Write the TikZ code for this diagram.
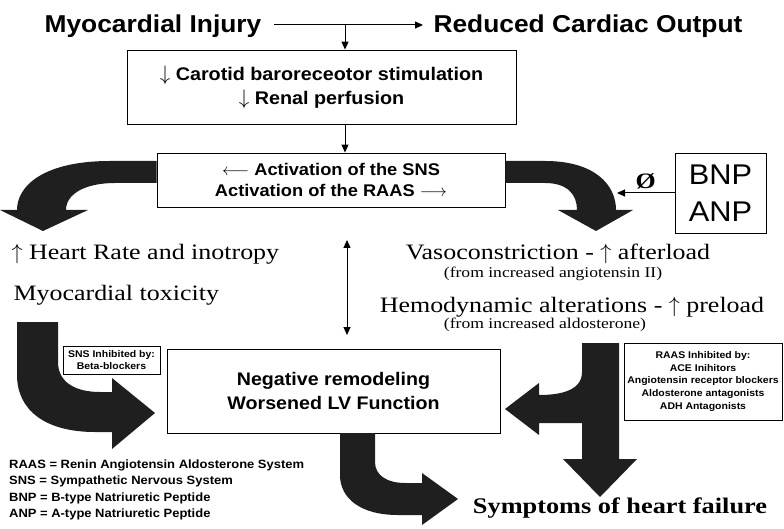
\RequirePackage{fix-cm}
\documentclass[tikz,border=0pt]{standalone}
\usepackage{amsmath}
\usepackage{fontspec}
\setmainfont{Liberation Serif}[FakeStretch=1.18]
\setsansfont{Liberation Sans}[FakeStretch=1.08]
\usetikzlibrary{arrows.meta}
\newcommand{\fs}[2]{\fontsize{#1}{#2}\selectfont}

\begin{document}
\begin{tikzpicture}[x=1pt,y=-1pt,
  tip/.style={line width=1pt,-{Triangle[length=8pt,width=7pt]}},
  twotip/.style={line width=1pt,{Triangle[length=8pt,width=7pt]}-{Triangle[length=8pt,width=7pt]}},
  box/.style={draw,line width=0.9pt,align=center,inner sep=0pt},
  hdr/.style={font=\sffamily\bfseries\fs{24.4}{28}},
  serif/.style={font=\fs{22}{26},anchor=base},
  note/.style={font=\fs{14.9}{18},anchor=base},
  fine/.style={font=\sffamily\bfseries\fs{9.7}{12.8}},
  fat/.style={fill=black!88}]
\useasboundingbox (0,0) rectangle (784,529);

% top line
\node[hdr] (inj) at (153,26) {Myocardial Injury};
\node[hdr] (rco) at (588,26) {Reduced Cardiac Output};
\draw[tip,shorten <=9pt,shorten >=7pt] ([yshift=1pt]inj.east) -- ([yshift=1pt]rco.west);
\coordinate (j) at (345,25);

\node[box,minimum width=389,minimum height=74,font=\sffamily\bfseries\fs{18.3}{24}]
  (car) at (321.5,87) {{\fs{21}{24}$\downarrow$} Carotid baroreceotor stimulation\\{\fs{21}{24}$\downarrow$} Renal perfusion};
\draw[tip] (j) -- (j |- car.north);

\node[box,minimum width=348,minimum height=54,font=\sffamily\bfseries\fs{16.9}{21}]
  (act) at (331,180) {$\longleftarrow$ Activation of the SNS\\Activation of the RAAS $\longrightarrow$};
\draw[tip] (car.south -| j) -- (act.north -| j);

% bent arrows out of the SNS/RAAS box
\fill[fat] (act.west |- 0,161) -- (110,161) .. controls (45,161) and (17,185) .. (17,210)
  -- (0,210) -- (43,231) -- (88,210) -- (66,210) .. controls (66,194) and (85,183) .. (115,183)
  -- (act.west |- 0,183) -- cycle;
\fill[fat] (act.east |- 0,161) -- (545,161) .. controls (595,161) and (616,185) .. (616,210)
  -- (633,210) -- (596,231) -- (558,210) -- (577,210) .. controls (577,195) and (568,183) .. (545,183)
  -- (act.east |- 0,183) -- cycle;

\node[box,minimum width=91,minimum height=80,font=\sffamily\fs{28.5}{37}]
  (bnp) at (720.5,193) {BNP\\ANP};
\coordinate (vaso) at (617,193);
\draw[tip] (bnp.west) -- (vaso) node[midway,above,font=\bfseries\fs{22}{24}] (nil) {Ø};

% effects
\node[serif,anchor=base west] (hr) at (8,260) {$\uparrow$ Heart Rate and inotropy};
\node[serif,anchor=base west] (tox) at (10,300) {Myocardial toxicity};
\node[serif] (vc) at (558,260) {Vasoconstriction - $\uparrow$ afterload};
\node[note] (ang) at (553,278) {(from increased angiotensin II)};
\node[serif] (hd) at (572,312) {Hemodynamic alterations - $\uparrow$ preload};
\node[note] (ald) at (545,328) {(from increased aldosterone)};

\coordinate (up) at (347,240);
\coordinate (dn) at (347,335);
\draw[twotip] (up) -- (dn);

\node[box,minimum width=333,minimum height=84,font=\sffamily\bfseries\fs{18.2}{24}]
  (neg) at (333.5,391) {Negative remodeling\\Worsened LV Function};

\node[box,minimum width=97,minimum height=28,fine] (sns) at (111.5,360)
  {SNS Inhibited by:\\Beta-blockers};
\node[box,minimum width=158,minimum height=77,fine] (raas) at (703,381.5)
  {RAAS Inhibited by:\\ACE Inihitors\\Angiotensin receptor blockers\\Aldosterone antagonists\\ADH Antagonists};

% arrows into remodeling and symptoms
\fill[fat] (17,322) -- (58,322) -- (58,362) .. controls (58,382) and (75,392) .. (100,392)
  -- (112,392) -- (112,378) -- (155,413) -- (112,449) -- (112,432) -- (95,432)
  .. controls (45,432) and (17,410) .. (17,375) -- cycle;
\fill[fat] (340,433) -- (375,433) -- (375,462) .. controls (375,476) and (388,483) .. (405,483)
  -- (422,483) -- (422,473) -- (458,499) -- (422,525) -- (422,515) -- (398,515)
  .. controls (360,515) and (340,498) .. (340,475) -- cycle;
\fill[fat] (582,343) -- (619,343) -- (619,459) -- (637,459) -- (600,497) -- (563,459)
  -- (582,459) -- (582,423) -- (539,423) -- (539,435) -- (505,409) -- (539,383) -- (539,395)
  .. controls (562,395) and (582,390) .. (582,372) -- cycle;

\node[font=\bfseries\fs{22.3}{26},anchor=base] (hf) at (620,513) {Symptoms of heart failure};

% key
\node[anchor=north west,inner sep=0pt,align=left,font=\sffamily\bfseries\fs{12}{16.5}] (key) at (9,459.5)
  {RAAS = Renin Angiotensin Aldosterone System\\SNS = Sympathetic Nervous System\\BNP = B-type Natriuretic Peptide\\ANP = A-type Natriuretic Peptide};
\end{tikzpicture}
\end{document}
